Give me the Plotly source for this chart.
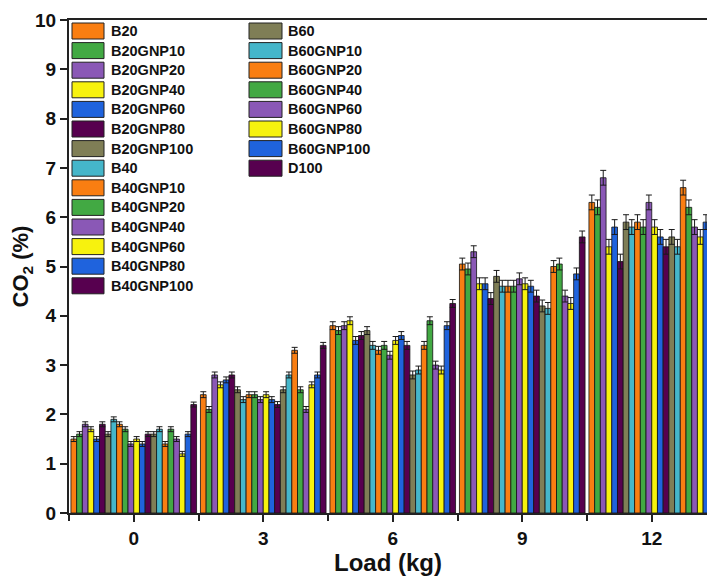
import plotly.graph_objects as go

# Engine load categories (kg)
loads = ["0", "3", "6", "9", "12"]

# CO2 emissions (%) for each fuel blend at each load
B20 = [1.5, 2.4, 3.8, 5.05, 6.3]
B20GNP10 = [1.6, 2.1, 3.7, 4.95, 6.2]
B20GNP20 = [1.8, 2.8, 3.8, 5.3, 6.8]
B20GNP40 = [1.7, 2.6, 3.9, 4.65, 5.4]
B20GNP60 = [1.5, 2.7, 3.5, 4.65, 5.8]
B20GNP80 = [1.8, 2.8, 3.6, 4.35, 5.1]
B20GNP100 = [1.6, 2.5, 3.7, 4.8, 5.9]
B40 = [1.9, 2.3, 3.4, 4.6, 5.8]
B40GNP10 = [1.8, 2.4, 3.3, 4.6, 5.9]
B40GNP20 = [1.7, 2.4, 3.4, 4.6, 5.8]
B40GNP40 = [1.4, 2.3, 3.2, 4.75, 6.3]
B40GNP60 = [1.5, 2.4, 3.5, 4.65, 5.8]
B40GNP80 = [1.4, 2.3, 3.6, 4.6, 5.6]
B40GNP100 = [1.6, 2.2, 3.4, 4.4, 5.4]
B60 = [1.6, 2.5, 2.8, 4.2, 5.6]
B60GNP10 = [1.7, 2.8, 2.9, 4.15, 5.4]
B60GNP20 = [1.4, 3.3, 3.4, 5.0, 6.6]
B60GNP40 = [1.7, 2.5, 3.9, 5.05, 6.2]
B60GNP60 = [1.5, 2.1, 3.0, 4.4, 5.8]
B60GNP80 = [1.2, 2.6, 2.9, 4.25, 5.6]
B60GNP100 = [1.6, 2.8, 3.8, 4.85, 5.9]
D100 = [2.2, 3.4, 4.25, 5.6, 6.0]

# Measurement uncertainty (±, %) at each load
errors = [0.05, 0.06, 0.08, 0.12, 0.15]

# Y-axis tick values
y_ticks = [0, 1, 2, 3, 4, 5, 6, 7, 8, 9, 10]

series = [
    ("B20", B20), ("B20GNP10", B20GNP10), ("B20GNP20", B20GNP20),
    ("B20GNP40", B20GNP40), ("B20GNP60", B20GNP60), ("B20GNP80", B20GNP80),
    ("B20GNP100", B20GNP100), ("B40", B40), ("B40GNP10", B40GNP10),
    ("B40GNP20", B40GNP20), ("B40GNP40", B40GNP40), ("B40GNP60", B40GNP60),
    ("B40GNP80", B40GNP80), ("B40GNP100", B40GNP100), ("B60", B60),
    ("B60GNP10", B60GNP10), ("B60GNP20", B60GNP20), ("B60GNP40", B60GNP40),
    ("B60GNP60", B60GNP60), ("B60GNP80", B60GNP80), ("B60GNP100", B60GNP100),
    ("D100", D100),
]

palette = ["#F97E12", "#42A943", "#8A58B6", "#F7F20E",
           "#1F63DD", "#57004F", "#7F7E56", "#45B6CA"]

FONT = "Arial, Liberation Sans, sans-serif"

fig = go.Figure()
x_pos = list(range(len(loads)))
for i, (name, vals) in enumerate(series):
    fig.add_trace(go.Bar(
        x=x_pos, y=vals, name=name,
        marker=dict(color=palette[i % len(palette)],
                    line=dict(color="#111111", width=0.8)),
        error_y=dict(type="data", array=errors, visible=True,
                     color="#1a1a1a", thickness=1, width=3),
        showlegend=False,
    ))

# Plot-area geometry in pixels, used to place the two-column key
W, H = 707, 576
L, T, B = 69, 20, 63
pw, ph = W - L, H - T - B


def px_x(p):
    return (p - L) / pw


def px_y(p):
    return (H - B - p) / ph


shapes = []
annotations = []
row0, pitch = 31, 19.6
columns = [(72, 104, 109, series[:14]), (249, 282, 286, series[14:])]
idx = 0
for sx0, sx1, tx, items in columns:
    for r, (name, _) in enumerate(items):
        cy = row0 + pitch * r
        shapes.append(dict(
            type="rect", xref="paper", yref="paper",
            x0=px_x(sx0), x1=px_x(sx1), y0=px_y(cy + 8), y1=px_y(cy - 8),
            fillcolor=palette[idx % len(palette)],
            line=dict(color="#222222", width=1),
        ))
        annotations.append(dict(
            xref="paper", yref="paper", x=px_x(tx), y=px_y(cy),
            xanchor="left", yanchor="middle", showarrow=False,
            text="<b>%s</b>" % name,
            font=dict(family=FONT, size=14.5, color="#111111"),
        ))
        idx += 1

fig.update_layout(
    width=W, height=H,
    margin=dict(l=L, r=0, t=T, b=B),
    paper_bgcolor="white", plot_bgcolor="white",
    barmode="group", bargap=0.03, bargroupgap=0,
    shapes=shapes, annotations=annotations,
    font=dict(family=FONT, color="#111111"),
)

fig.update_xaxes(
    range=[-0.5, -0.5 + pw / 129.5],
    tickvals=x_pos, ticktext=["<b>%s</b>" % t for t in loads],
    tickfont=dict(family=FONT, size=19, color="#111111"),
    ticks="outside", ticklen=7, tickwidth=1.5, tickcolor="#222222",
    minor=dict(dtick=0.5, tick0=-0.5, ticks="outside", ticklen=6,
               tickwidth=1.5, tickcolor="#222222"),
    showline=True, linecolor="#222222", linewidth=2, mirror=True,
    showgrid=False, zeroline=False,
    title=dict(text="<b>Load (kg)</b>", font=dict(family=FONT, size=24),
               standoff=6),
)

fig.update_yaxes(
    range=[0, 10],
    tickvals=y_ticks, ticktext=["<b>%d</b>" % v for v in y_ticks],
    tickfont=dict(family=FONT, size=19, color="#111111"),
    ticks="outside", ticklen=7, tickwidth=1.5, tickcolor="#222222",
    showline=True, linecolor="#222222", linewidth=2, mirror=False,
    showgrid=False, zeroline=False,
    title=dict(text="<b>CO<sub>2</sub> (%)</b>", font=dict(family=FONT, size=22),
               standoff=0),
)

fig.write_html("out.html")
